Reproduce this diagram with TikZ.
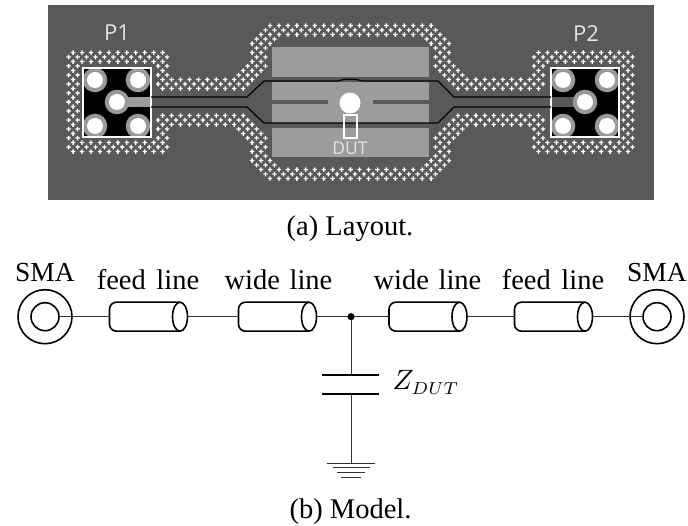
\documentclass[tikz,border=0pt]{standalone}
\usepackage{fontspec}
\setmainfont{Liberation Serif}
\newfontfamily\pcbfont{Open Sans}
\definecolor{board}{HTML}{595959}
\definecolor{copper}{HTML}{9C9C9C}
\definecolor{ringc}{HTML}{999999}
\definecolor{silk}{HTML}{E4E4E4}
\definecolor{wire}{HTML}{333333}
\tikzset{
  trace/.style={black,line width=1.2pt,line join=round},
  feedcyl/.style={rectangle,minimum width=78pt,minimum height=29pt,inner sep=0pt,outer sep=0pt},
  cylline/.style={black,line width=1.6pt},
  ring/.style={circle,draw=black,line width=1.6pt,inner sep=0pt,outer sep=0pt},
  wireline/.style={wire,line width=0.9pt},
  plate/.style={black,line width=1.4pt},
  gnd/.style={wire,line width=0.9pt},
  lab/.style={anchor=base,inner sep=0pt,font=\fontsize{28.5}{30}\selectfont},
  pcblab/.style={anchor=base,inner sep=0pt,text=silk,font=\pcbfont\fontsize{22}{24}\selectfont}
}
\newcommand\plusmark[2]{\fill[white] (#1,#2) +(-2.2,-.65) rectangle +(2.2,.65) +(-.65,-2.2) rectangle +(.65,2.2);}
\newcommand\viahole[2]{\fill[ringc] (#1,#2) circle[radius=12.3]; \fill[white] (#1,#2) circle[radius=8];}
\newcommand\cylbody[1]{%
  \draw[cylline,rounded corners=7pt] ([xshift=-7.5pt]#1.north east) -- (#1.north west) -- (#1.south west) -- ([xshift=-7.5pt]#1.south east);
  \draw[cylline] ([xshift=-7.5pt]#1.east) ellipse[x radius=7.5,y radius=14.5];}
\begin{document}
\begin{tikzpicture}[x=1pt,y=-1pt]
\useasboundingbox (0,0) rectangle (688,526);
\fill[white] (0,0) rectangle (688,526);
% board
\fill[board] (48,5) rectangle (654,200);
% stitching vias: one quadrant listed, mirrored four ways
\foreach \k/\a/\b in {0/269/351,1/265/351,2/260/351,3/256/275,4/251/271,5/256/266,
  6/72/164,6/251/262,7/68/169,7/256/266,8/72/164,8/251/262,
  9/68/79,9/157/168,9/247/266,10/72/74,10/162/163,10/243/262,
  11/68/79,11/157/168,11/238/257,12/72/74,12/162/253,13/68/79,13/157/248,
  14/72/74,14/162/244,15/68/79,16/72/74,17/68/79}{
  \pgfmathsetmacro\off{mod(\k,2)*4.475}
  \pgfmathtruncatemacro\ms{ceil((\a-270-\off)/8.95)}
  \pgfmathtruncatemacro\me{floor((\b-270-\off)/8.95)}
  \pgfmathsetmacro\yy{25.6+4.5*\k}
  \foreach \m in {\ms,...,\me}{
    \pgfmathsetmacro\xx{270+\off+\m*8.95}
    \plusmark{\xx}{\yy}
    \plusmark{701.1-\xx}{\yy}
    \plusmark{\xx}{204.2-\yy}
    \plusmark{701.1-\xx}{204.2-\yy}
  }
}
% wide pads
\fill[copper] (272,47) rectangle (429,77);
\fill[copper] (272,128) rectangle (429,157);
\fill[copper] (272,82) rectangle (429,123);
\fill[board] (272,100) rectangle (328,104);
\fill[board] (373,100) rectangle (429,104);
% connector pads
\fill[black] (83,68) rectangle (151,137);
\fill[black] (551,68) rectangle (619,137);
\fill[copper] (117,97.5) rectangle (151,107);
\fill[board] (551,97.5) rectangle (585,107);
\viahole{95}{80}\viahole{138}{80}\viahole{117}{102}\viahole{95}{126}\viahole{138}{126}
\viahole{563}{80}\viahole{607}{80}\viahole{585}{102}\viahole{563}{126}\viahole{607}{126}
\draw[white,line width=2pt] (83,68) rectangle (151,137);
\draw[white,line width=2pt] (551,68) rectangle (619,137);
% trace edges
\draw[trace] (151,97) -- (247,97) -- (264,81) -- (338,81) .. controls (344,78.5) and (356,78.5) .. (362,81) -- (438,81) -- (454,97) -- (551,97);
\draw[trace] (151,107) -- (247,107) -- (264,123) -- (438,123) -- (454,107) -- (551,107);
% DUT
\fill[white] (350,103) circle[radius=10.5];
\draw[white,line width=1.4pt] (344,115) rectangle (357,138);
\node[pcblab,font=\pcbfont\fontsize{17.5}{20}\selectfont] (dutlab) at (350,155) {DUT};
\node[pcblab] (p1) at (117,40.5) {P1};
\node[pcblab] (p2) at (586,42) {P2};
\node[lab] (capa) at (350,236) {(a) Layout.};
% model
\node[ring,minimum size=54pt] (smaLo) at (45,316.7) {};
\node[ring,minimum size=28pt] (smaLi) at (45,316.7) {};
\node[ring,minimum size=54pt] (smaRo) at (657,316.7) {};
\node[ring,minimum size=28pt] (smaRi) at (657,316.7) {};
\node[feedcyl] (c1) at (148.5,316.7) {};
\node[feedcyl] (c2) at (277.5,316.7) {};
\node[feedcyl] (c3) at (428,316.7) {};
\node[feedcyl] (c4) at (553.5,316.7) {};
\cylbody{c1}\cylbody{c2}\cylbody{c3}\cylbody{c4}
\coordinate (junc) at (351,316.7);
\coordinate (capT) at (351,375);
\coordinate (capB) at (351,394);
\coordinate (gndT) at (351,463);
\draw[wireline] (smaLi.east) -- (c1.west);
\draw[wireline] (c1.east) -- (c2.west);
\draw[wireline] (c2.east) -- (junc) -- (c3.west);
\draw[wireline] (c3.east) -- (c4.west);
\draw[wireline] (c4.east) -- (smaRi.west);
\draw[wireline] (junc) -- (capT);
\draw[wireline] (capB) -- (gndT);
\fill[black] (junc) circle[radius=3.6];
\draw[plate] (322,375) -- (379,375);
\draw[plate] (322,394) -- (379,394);
\draw[gnd] (327,463) -- (375,463);
\draw[gnd] (333,467.5) -- (370,467.5);
\draw[gnd] (337,472.3) -- (365,472.3);
\draw[gnd] (341,477) -- (361,477);
\node[lab,font=\fontsize{27.5}{30}\selectfont] (s1) at (45,282) {SMA};
\node[lab,font=\fontsize{27.5}{30}\selectfont] (s2) at (657,282) {SMA};
\node[lab] (f1) at (148,290) {feed\hspace{3.5pt} line};
\node[lab] (w1) at (278.5,290) {wide\hspace{2.5pt} line};
\node[lab] (w2) at (427.5,290) {wide\hspace{2.5pt} line};
\node[lab] (f2) at (553,290) {feed\hspace{3.5pt} line};
\node[anchor=base west,inner sep=0pt,scale=2.8] (zd) at (392,390) {$Z_{\scalebox{.88}{$\scriptstyle DUT$}}$};
\node[lab] (capb) at (350.5,518) {(b) Model.};
\end{tikzpicture}
\end{document}
